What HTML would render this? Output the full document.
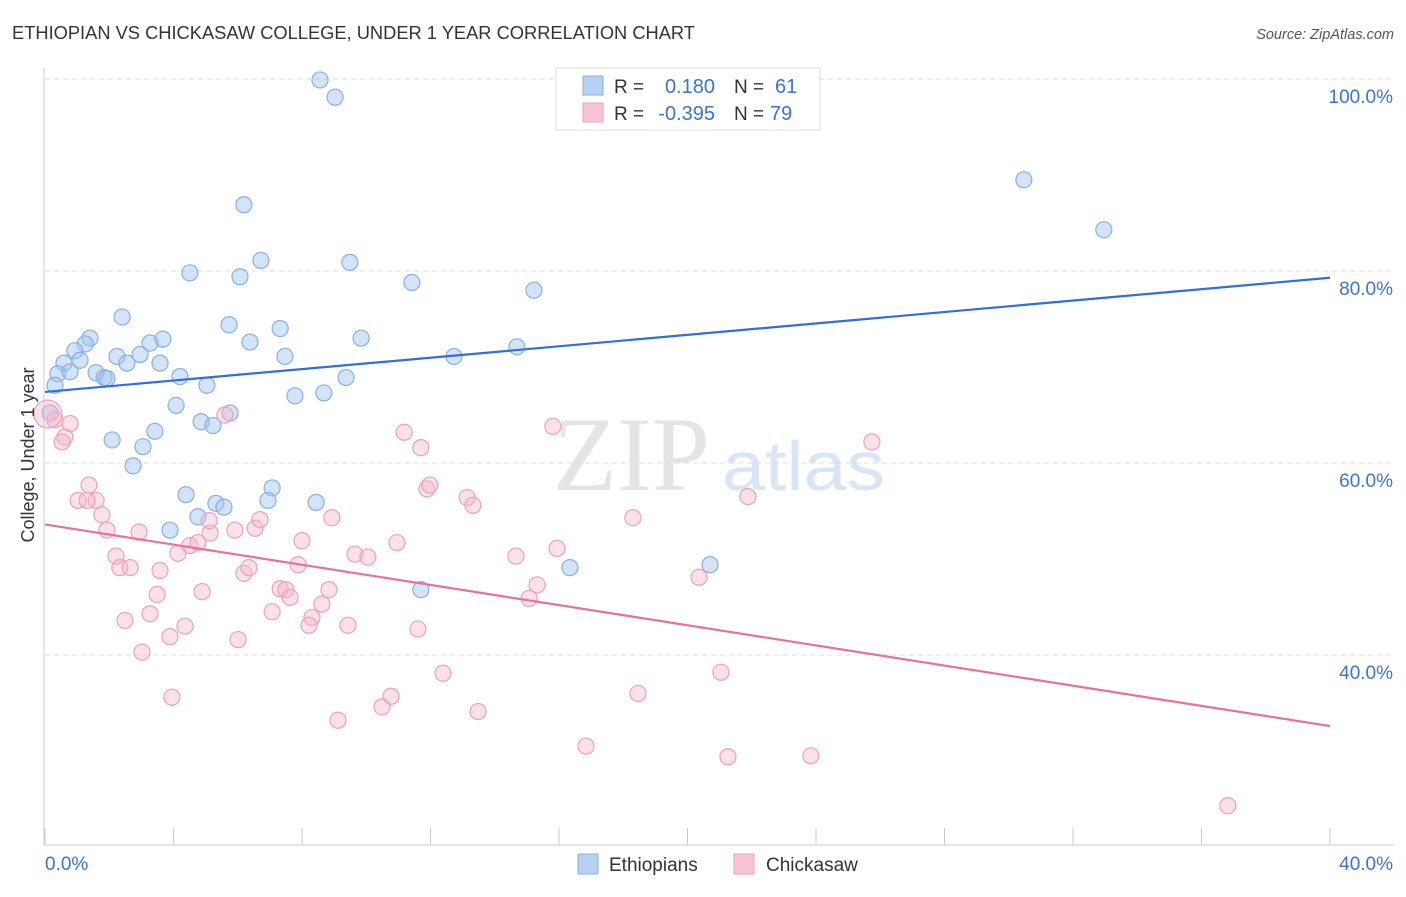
<!DOCTYPE html>
<html><head><meta charset="utf-8"><style>
body{margin:0;background:#fff;font-family:"Liberation Sans",sans-serif}
svg text{font-family:"Liberation Sans",sans-serif}
</style></head><body>
<svg id="chart" width="1406" height="892" xmlns="http://www.w3.org/2000/svg">
<text x="12" y="39" font-size="18.3" fill="#333">ETHIOPIAN VS CHICKASAW COLLEGE, UNDER 1 YEAR CORRELATION CHART</text>
<text x="1394" y="39" font-size="14.5" fill="#555" text-anchor="end" font-style="italic">Source: ZipAtlas.com</text>
<g>
<text x="553" y="490" font-size="106" fill="#e4e4e4" textLength="157" lengthAdjust="spacingAndGlyphs" style="font-family:'Liberation Serif',serif">ZIP</text>
<text x="722" y="490" font-size="70" fill="#d8e5f7" textLength="163" lengthAdjust="spacingAndGlyphs">atlas</text>
</g>
<g id="grid"></g>
<g id="axes"></g>
<g id="pts"></g>
<g id="trend"></g>
<text transform="translate(34,455) rotate(-90)" font-size="18" fill="#333" text-anchor="middle">College, Under 1 year</text>
<g>
<rect x="556" y="68" width="264" height="62" fill="#fff" stroke="#ddd"/>
<rect x="583" y="76" width="20" height="19" fill="#b7d0f3" stroke="#86afe6"/>
<rect x="583" y="103" width="20" height="19" fill="#f9c5d5" stroke="#eca0b8"/>
<text x="614" y="93" font-size="19" fill="#333">R =</text><text x="715" y="93" font-size="20" fill="#3b73d0" text-anchor="end">0.180</text>
<text x="734" y="93" font-size="19" fill="#333">N =</text><text x="775" y="93" font-size="20" fill="#3b73d0">61</text>
<text x="614" y="120" font-size="19" fill="#333">R =</text><text x="715" y="120" font-size="20" fill="#3b73d0" text-anchor="end">-0.395</text>
<text x="734" y="120" font-size="19" fill="#333">N =</text><text x="770" y="120" font-size="20" fill="#3b73d0">79</text>
</g>
<g>
<rect x="578" y="854" width="20" height="20" fill="#b7d0f3" stroke="#86afe6"/>
<text x="609" y="871" font-size="19" fill="#333">Ethiopians</text>
<rect x="734" y="854" width="20" height="20" fill="#f9c5d5" stroke="#eca0b8"/>
<text x="766" y="871" font-size="19" fill="#333">Chickasaw</text>
</g>
</svg>
<script>
const yTicks=[100,80,60,40];
const yTickLabels=["100.0%","80.0%","60.0%","40.0%"];
const xTicks=[0,4,8,12,16,20,24,28,32,36,40];
const blueX=[8.56,9.03,6.19,30.47,32.96,4.51,6.07,6.72,9.49,11.42,15.22,2.40,5.73,7.32,1.40,3.67,6.38,9.84,1.25,0.93,2.24,2.96,3.27,7.47,12.73,14.69,0.59,1.09,3.58,2.55,0.40,0.78,1.59,1.84,1.93,4.20,5.04,9.37,0.31,7.78,8.68,4.08,5.76,4.86,5.23,3.42,2.09,3.05,2.74,4.39,5.32,5.57,7.07,6.94,8.44,3.89,4.76,16.34,20.70,11.70,0.16];
const blueY=[99.9,98.1,86.9,89.5,84.3,79.8,79.4,81.1,80.9,78.8,78.0,75.2,74.4,74.0,73.0,72.9,72.6,73.0,72.4,71.7,71.1,71.3,72.5,71.1,71.1,72.1,70.4,70.7,70.4,70.4,69.3,69.5,69.4,68.9,68.8,69.0,68.1,68.9,68.1,67.0,67.3,66.0,65.2,64.3,63.9,63.3,62.4,61.7,59.7,56.7,55.8,55.4,57.4,56.1,55.9,53.0,54.4,49.1,49.4,46.8,65.2];
const pinkX=[0.31,0.78,0.62,0.53,1.37,1.03,1.59,1.31,1.77,1.93,2.93,2.21,2.33,2.65,3.58,4.14,4.51,4.76,5.14,5.11,5.91,5.60,6.54,6.69,6.19,6.35,8.00,8.93,7.88,7.32,7.50,7.63,8.84,8.62,8.31,8.22,7.07,2.49,3.27,3.49,4.89,4.36,3.89,3.02,6.01,3.95,9.43,9.65,10.05,10.96,11.18,11.70,11.89,11.98,13.14,13.32,14.66,15.94,15.32,15.07,11.61,12.39,13.48,10.77,10.49,9.12,15.81,18.30,21.88,25.74,20.36,21.04,18.46,16.84,21.26,23.84,36.82,0.09];
const pinkY=[64.5,64.1,62.7,62.2,57.7,56.1,56.1,56.1,54.6,53.0,52.8,50.3,49.1,49.1,48.8,50.6,51.4,51.7,52.7,54.0,53.0,65.0,53.2,54.1,48.5,49.1,51.9,54.3,49.4,46.9,46.8,46.0,46.8,45.3,43.9,43.1,44.5,43.6,44.3,46.3,46.6,43.0,41.9,40.3,41.6,35.6,43.1,50.5,50.2,51.7,63.2,61.6,57.3,57.7,56.4,55.6,50.3,51.1,47.3,45.9,42.7,38.1,34.1,35.7,34.6,33.2,63.8,54.3,56.5,62.2,48.1,38.2,36.0,30.5,29.4,29.5,24.3,65.1];
const blueTrend=[67.4,79.3];
const pinkTrend=[53.6,32.6];
const NS="http://www.w3.org/2000/svg";
const sx=v=>45+v*32.125, sy=v=>79+(100-v)*9.6;
function mk(tag,attrs,parent){const e=document.createElementNS(NS,tag);for(const k in attrs)e.setAttribute(k,attrs[k]);document.getElementById(parent).appendChild(e);return e;}
yTicks.forEach((t,i)=>{
 const l=mk('line',{x1:45,x2:1394,y1:sy(t),y2:sy(t),stroke:'#ddd','stroke-dasharray':'5,4'},'grid');
 
 
 const tx=mk('text',{x:1393,y:sy(t)+24,'font-size':19,fill:'#3b73d0','text-anchor':'end'},'grid');
 tx.textContent=yTickLabels[i];
 
 
});
const ax=mk('line',{x1:44,x2:44,y1:68,y2:845,stroke:'#ccc'},'axes');


const bx=mk('line',{x1:44,x2:1394,y1:845,y2:845,stroke:'#ccc'},'axes');


xTicks.forEach(t=>{
 const l=mk('line',{x1:sx(t),x2:sx(t),y1:828,y2:845,stroke:'#ccc'},'axes');
 
 
});
const x0=mk('text',{x:45,y:870,'font-size':19,fill:'#3b73d0'},'axes');x0.textContent='0.0%';


const x1=mk('text',{x:1393,y:870,'font-size':19,fill:'#3b73d0','text-anchor':'end'},'axes');x1.textContent='40.0%';


blueX.forEach((v,i)=>{
 const c=mk('circle',{cx:sx(v),cy:sy(blueY[i]),r:8,fill:'rgba(160,196,240,0.45)',stroke:'#86afe6','stroke-width':1.2},'pts');
 
 
});
pinkX.forEach((v,i)=>{
 const big=i===pinkX.length-1;
 const c=mk('circle',{cx:sx(v),cy:sy(pinkY[i]),r:big?14:8,fill:'rgba(248,180,200,0.4)',stroke:'#eca0b8','stroke-width':1.2},'pts');
 
 
});
const bt=mk('line',{x1:sx(0),y1:sy(blueTrend[0]),x2:sx(40),y2:sy(blueTrend[1]),stroke:'#2f6fd6','stroke-width':2.2},'trend');


const pt=mk('line',{x1:sx(0),y1:sy(pinkTrend[0]),x2:sx(40),y2:sy(pinkTrend[1]),stroke:'#e8709a','stroke-width':2.2},'trend');


</script>
</body></html>
